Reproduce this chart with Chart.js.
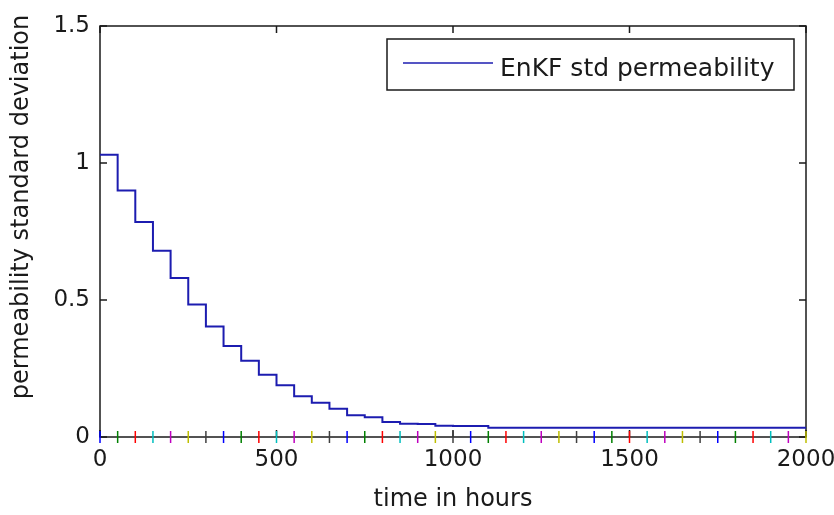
<!DOCTYPE html>
<html>
<head>
<meta charset="utf-8">
<script src="https://cdn.jsdelivr.net/npm/chart.js@4.4.1/dist/chart.umd.min.js"></script>
<style>
    html, body { margin: 0; padding: 0; background: #fff; }
    #wrap { width: 834px; height: 515px; }
</style>
</head>
<body>
<div id="wrap"><canvas id="stdChart"></canvas></div>
<script>
// Assimilation times (hours), one update every 50 h
const hours = [0, 50, 100, 150, 200, 250, 300, 350, 400, 450, 500, 550, 600, 650, 700,
    750, 800, 850, 900, 950, 1000, 1050, 1100, 1150, 1200, 1250, 1300, 1350, 1400,
    1450, 1500, 1550, 1600, 1650, 1700, 1750, 1800, 1850, 1900, 1950, 2000];

// EnKF ensemble std of permeability
const stdPermeability = [1.03, 0.90, 0.785, 0.68, 0.58, 0.484, 0.403, 0.332, 0.278, 0.227,
    0.189, 0.149, 0.125, 0.103, 0.079, 0.072, 0.055, 0.048, 0.047, 0.041, 0.040, 0.040,
    0.034, 0.034, 0.034, 0.034, 0.034, 0.034, 0.034, 0.034, 0.034, 0.034, 0.034, 0.034,
    0.034, 0.034, 0.034, 0.034, 0.034, 0.034, 0.034];

const xTicks = [0, 500, 1000, 1500, 2000];
const yTicks = [0, 0.5, 1, 1.5];

// MATLAB default colour order, cycled for the measurement-time markers
const markerColors = ['#0000ff', '#008000', '#ff0000', '#00bfbf', '#bf00bf', '#bfbf00', '#404040'];

const FONT = 'DejaVu Sans';

// Box, inward ticks, legend and y label drawn MATLAB-style
const matlabFrame = {
    id: 'matlabFrame',
    beforeDatasetsDraw(chart) {
        const { ctx, chartArea: a, scales: { x, y } } = chart;
        const len = 7;
        ctx.save();
        ctx.strokeStyle = '#1a1a1a';
        ctx.lineWidth = 1.5;
        ctx.strokeRect(a.left, a.top, a.right - a.left, a.bottom - a.top);
        ctx.beginPath();
        xTicks.forEach(v => {
            const px = x.getPixelForValue(v);
            ctx.moveTo(px, a.bottom); ctx.lineTo(px, a.bottom - len);
            ctx.moveTo(px, a.top); ctx.lineTo(px, a.top + len);
        });
        yTicks.forEach(v => {
            const py = y.getPixelForValue(v);
            ctx.moveTo(a.left, py); ctx.lineTo(a.left + len, py);
            ctx.moveTo(a.right, py); ctx.lineTo(a.right - len, py);
        });
        ctx.stroke();
        ctx.restore();
    },
    afterDatasetsDraw(chart) {
        const { ctx } = chart;
        const ds = chart.data.datasets[0];
        ctx.save();
        // legend
        ctx.fillStyle = '#fff';
        ctx.fillRect(387, 39, 407, 51);
        ctx.strokeStyle = '#1a1a1a';
        ctx.lineWidth = 1.5;
        ctx.strokeRect(387, 39, 407, 51);
        ctx.strokeStyle = ds.borderColor;
        ctx.lineWidth = 1.5;
        ctx.beginPath();
        ctx.moveTo(403, 63); ctx.lineTo(493, 63);
        ctx.stroke();
        ctx.fillStyle = '#1a1a1a';
        ctx.font = '25px "' + FONT + '"';
        ctx.textBaseline = 'alphabetic';
        ctx.textAlign = 'left';
        ctx.fillText(ds.label, 500, 76);
        // y axis label
        ctx.translate(22, 207);
        ctx.rotate(-Math.PI / 2);
        ctx.textAlign = 'center';
        ctx.textBaseline = 'middle';
        ctx.font = '24px "' + FONT + '"';
        ctx.fillText('permeability standard deviation', 0, 0);
        ctx.restore();
    }
};

const ctx = document.getElementById('stdChart').getContext('2d');
new Chart(ctx, {
    type: 'line',
    data: {
        datasets: [{
            label: 'EnKF std permeability',
            data: hours.map((h, i) => ({ x: h, y: stdPermeability[i] })),
            borderColor: '#1c1cb0',
            borderWidth: 2,
            stepped: 'before',
            pointRadius: 0,
            fill: false,
            clip: false
        }, {
            label: 'measurement times',
            type: 'scatter',
            data: hours.map(h => ({ x: h, y: 0 })),
            pointStyle: 'line',
            rotation: 90,
            pointRadius: 6,
            pointHoverRadius: 6,
            borderWidth: 1.5,
            pointBorderColor: hours.map((h, i) => markerColors[i % markerColors.length]),
            clip: false
        }]
    },
    options: {
        responsive: true,
        maintainAspectRatio: false,
        animation: false,
        events: [],
        layout: { padding: { left: 0, top: 26, right: 28, bottom: 0 } },
        plugins: {
            legend: { display: false },
            tooltip: { enabled: false }
        },
        scales: {
            x: {
                type: 'linear',
                min: 0,
                max: 2000,
                afterFit: s => { s.height = 78; s.paddingLeft = 0; s.paddingRight = 0; },
                afterBuildTicks: s => { s.ticks = xTicks.map(v => ({ value: v })); },
                grid: { display: false, drawTicks: false },
                border: { display: false },
                ticks: {
                    padding: 9,
                    color: '#1a1a1a',
                    font: { family: FONT, size: 23 },
                    maxRotation: 0,
                    callback: v => String(v)
                },
                title: {
                    display: true,
                    text: 'time in hours',
                    color: '#1a1a1a',
                    font: { family: FONT, size: 24 },
                    padding: { top: 0, bottom: 1 }
                }
            },
            y: {
                min: 0,
                max: 1.5,
                afterFit: s => { s.width = 100; s.paddingTop = 0; s.paddingBottom = 0; },
                afterBuildTicks: s => { s.ticks = yTicks.map(v => ({ value: v })); },
                grid: { display: false, drawTicks: false },
                border: { display: false },
                ticks: {
                    padding: 10,
                    color: '#1a1a1a',
                    font: { family: FONT, size: 23 },
                    callback: v => String(v)
                }
            }
        }
    },
    plugins: [matlabFrame]
});
</script>
</body>
</html>
